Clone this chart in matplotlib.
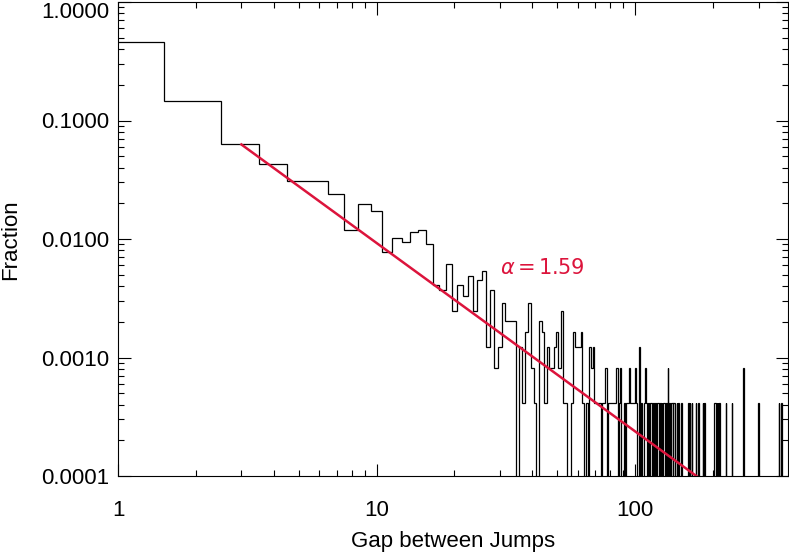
import numpy as np
import matplotlib
matplotlib.use("Agg")
import matplotlib.pyplot as plt
from matplotlib import font_manager
from matplotlib.ticker import FixedLocator, LogLocator, NullFormatter

# counts per gap size (gap = 1, 2, 3, ...)
counts_head = [
    1120, 356, 154, 104, 76, 75, 59, 29, 48, 42,     # 1-10
    19, 25, 23, 28, 29, 22, 10, 9, 15, 6,            # 11-20
    10, 8, 12, 6, 11, 13, 3, 9, 2, 3,                # 21-30
    7, 5, 5, 5, 0, 3, 1, 4, 7, 2,                    # 31-40
    1, 0, 5, 4, 1, 3, 2, 2, 3, 4,                    # 41-50
    2, 6, 1, 1, 0, 0, 1, 4, 3, 3,                    # 51-60
    3, 4, 1, 0, 1, 0, 3, 2, 3, 1,                    # 61-70
    1, 1, 1, 0, 1, 1, 2, 0, 1, 1,                    # 71-80
    1, 1, 1, 1, 2, 0, 1, 2, 0, 0,                    # 81-90
    1, 0, 1, 1, 2, 1, 1, 1, 1, 2,                    # 91-100
    1, 0, 0, 3, 0, 1, 0, 0, 1, 2,                    # 101-110
    1, 0, 1, 0, 1, 1, 0, 1, 0, 1,                    # 111-120
    0, 1, 1, 0, 1, 0, 1, 0, 1, 1,                    # 121-130
    0, 1, 0, 2, 0, 1, 0, 1, 1, 0,                    # 131-140
]
# sparse tail: gap sizes above 140 that have any counts
tail_gaps = [141, 142, 145, 147, 151, 161, 163, 166, 172, 176, 183, 185,
             203, 204, 205, 207, 209, 211, 212, 225, 237, 262, 300, 360, 368]
tail_counts = [1, 1, 1, 1, 1, 1, 1, 1, 1, 1, 1, 1,
               1, 1, 1, 1, 1, 1, 1, 1, 1, 2, 1, 1, 1]
n_total = 2440
max_gap = 390

# power-law fit
alpha = 1.59
amp = 0.36
fit_xmin, fit_xmax = 3, 200

counts = np.zeros(max_gap)
counts[:len(counts_head)] = counts_head
for g, c in zip(tail_gaps, tail_counts):
    counts[g - 1] = c
frac = counts / n_total
edges = np.arange(max_gap + 1) + 0.5

names = {f.name for f in font_manager.fontManager.ttflist}
if "Liberation Sans Narrow" in names:
    fam, fs = "Liberation Sans Narrow", 18
else:
    fam, fs = "Liberation Sans", 16
plt.rcParams["font.family"] = [fam, "DejaVu Sans"]

fig = plt.figure(figsize=(7.89, 5.55), dpi=100)
ax = fig.add_axes([118 / 789, 79 / 555, 670 / 789, 474 / 555])

ax.stairs(frac, edges, baseline=None, color="black", lw=0.9)

fx = np.array([fit_xmin, fit_xmax], dtype=float)
ax.plot(fx, amp * fx ** (-alpha), color="#dc143c", lw=1.8)
ax.text(30, 0.0057, r"$\alpha\,$=$\,$1.59", color="#dc143c", fontsize=15,
        family="DejaVu Sans", ha="left", va="center")

ax.set_xscale("log")
ax.set_yscale("log")
ax.set_xlim(1, max_gap)
ax.set_ylim(1e-4, 1.0)

ax.xaxis.set_major_locator(FixedLocator([1, 10, 100]))
ax.set_xticklabels(["1", "10", "100"])
ax.xaxis.set_minor_locator(LogLocator(base=10, subs=np.arange(2, 10)))
ax.xaxis.set_minor_formatter(NullFormatter())
yt = [1e-4, 1e-3, 1e-2, 1e-1, 1.0]
ax.yaxis.set_major_locator(FixedLocator(yt))
ax.set_yticklabels(["%.4f" % v for v in yt])
ax.yaxis.set_minor_locator(LogLocator(base=10, subs=np.arange(2, 10)))
ax.yaxis.set_minor_formatter(NullFormatter())

ax.tick_params(which="both", direction="in", top=True, right=True,
               width=0.8, labelsize=fs)
ax.tick_params(which="major", length=9)
ax.tick_params(which="minor", length=4.5)
ax.tick_params(axis="x", which="major", pad=17)
ax.tick_params(axis="y", which="major", pad=6)
for s in ax.spines.values():
    s.set_linewidth(0.8)

# keep the top label inside the picture
ax.get_yticklabels()[-1].set_va("top")

fig.text(453 / 789, 1 - 541 / 555, "Gap between Jumps", fontsize=fs,
         ha="center", va="center")
fig.text(11 / 789, 1 - 240 / 555, "Fraction", fontsize=fs, rotation=90,
         ha="center", va="center")

fig.savefig("out.png", dpi=100)
